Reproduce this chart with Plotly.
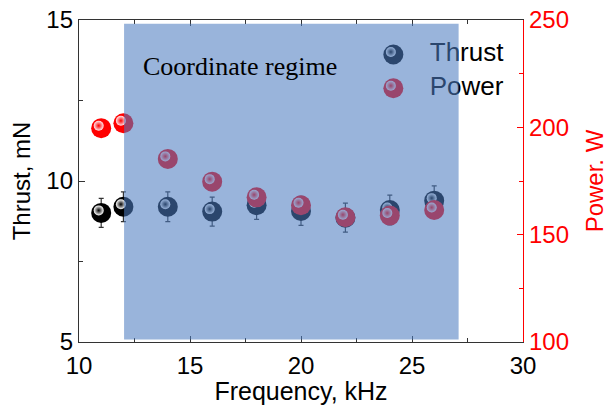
import plotly.graph_objects as go

# ---- data -------------------------------------------------------------
freq_khz = [11, 12, 14, 16, 18, 20, 22, 24, 26]
thrust_mn = [9.01, 9.20, 9.20, 9.05, 9.25, 9.07, 8.86, 9.10, 9.39]
thrust_err = [0.45, 0.46, 0.46, 0.45, 0.44, 0.45, 0.45, 0.46, 0.46]
power_w = [199.6, 201.9, 185.3, 174.7, 167.4, 163.7, 158.1, 158.9, 161.5]

regime_khz = [12.03, 27.1]       # shaded "coordinate regime" band
regime_mn = [5.08, 14.88]

x_range = [10, 30]
y_range = [5, 15]
y2_range = [100, 250]

# ---- layout geometry --------------------------------------------------
W, H = 608, 405
M = dict(l=79, r=85, t=20, b=63)
plot_w = W - M["l"] - M["r"]
plot_h = H - M["t"] - M["b"]

FONT = "Liberation Sans, Arial, sans-serif"
SERIF = "Liberation Serif, Times New Roman, serif"
RED = "#ff0000"


def px_to_dx(px, rng):
    return px * (rng[1] - rng[0]) / plot_w


def px_to_dy(px, rng):
    return px * (rng[1] - rng[0]) / plot_h


# sphere look: solid body + small offset glint
BODY = 20
GLINT = 10
GLINT_DX = -2.5
GLINT_DY = 2.5

fig = go.Figure()


def add_spheres(xs, ys, base, glint, xaxis, yaxis, xr, yr, err=None):
    fig.add_trace(go.Scatter(
        x=xs, y=ys, mode="markers", xaxis=xaxis, yaxis=yaxis,
        marker=dict(size=BODY, color=base, line=dict(width=0)),
        error_y=(dict(type="data", array=err, color="#333333", thickness=1.2, width=2.5)
                 if err is not None else None),
        showlegend=False, hoverinfo="skip",
    ))
    gx = [v + px_to_dx(GLINT_DX, xr) for v in xs]
    gy = [v + px_to_dy(GLINT_DY, yr) for v in ys]
    fig.add_trace(go.Scatter(
        x=gx, y=gy, mode="markers", xaxis=xaxis, yaxis=yaxis,
        marker=dict(size=GLINT, color=glint, line=dict(width=0),
                    gradient=dict(type="radial", color=base)),
        showlegend=False, hoverinfo="skip",
    ))


# thrust (left axis)
add_spheres(freq_khz, thrust_mn, "#000000", "#ffffff", "x", "y", x_range, y_range, thrust_err)
# power (right axis)
add_spheres(freq_khz, power_w, RED, "#ffe8ec", "x", "y2", x_range, y2_range)

# key drawn in axes-fraction space so the band tints it like the data
key_x = 0.708
key_text_x = 0.79
key_rows = [0.893, 0.788]
key_names = ["Thrust", "Power"]
key_colors = [("#000000", "#ffffff"), (RED, "#ffe8ec")]
for ky, name, (base, glint) in zip(key_rows, key_names, key_colors):
    add_spheres([key_x], [ky], base, glint, "x3", "y3", [0, 1], [0, 1])
    fig.add_trace(go.Scatter(
        x=[key_text_x], y=[ky], mode="text", text=[name], textposition="middle right",
        textfont=dict(family=FONT, size=26, color="#000000"),
        xaxis="x3", yaxis="y3", showlegend=False, hoverinfo="skip",
    ))

# shaded band laid over the markers
fig.add_shape(type="rect", xref="x", yref="y",
              x0=regime_khz[0], x1=regime_khz[1], y0=regime_mn[0], y1=regime_mn[1],
              fillcolor="rgb(75,123,192)", opacity=0.57, line=dict(width=0), layer="above")

fig.add_annotation(x=12.8, y=13.56, xref="x", yref="y", text="Coordinate regime",
                   showarrow=False, xanchor="left", yanchor="middle",
                   font=dict(family=SERIF, size=26, color="#000000"))

axis_common = dict(
    ticks="inside", ticklen=6, tickwidth=1.2, showgrid=False, zeroline=False,
    showline=True, linewidth=1.3, automargin=False,
)

fig.update_layout(
    width=W, height=H, margin=M,
    paper_bgcolor="white", plot_bgcolor="white",
    showlegend=False,
    font=dict(family=FONT, size=24, color="#000000"),
    xaxis=dict(
        range=x_range, dtick=5, tick0=10, linecolor="#333333", tickcolor="#333333",
        mirror="ticks", ticklabelstandoff=2,
        minor=dict(dtick=2.5, ticks="inside", ticklen=4, tickcolor="#333333"),
        tickfont=dict(size=24),
        title=dict(text="Frequency, kHz", font=dict(size=25), standoff=8),
        **axis_common,
    ),
    yaxis=dict(
        range=y_range, dtick=5, tick0=5, linecolor="#333333", tickcolor="#333333",
        minor=dict(dtick=2.5, ticks="inside", ticklen=4, tickcolor="#333333"),
        tickfont=dict(size=24),
        title=dict(text="Thrust, mN", font=dict(size=24), standoff=8),
        **axis_common,
    ),
    yaxis2=dict(
        range=y2_range, dtick=50, tick0=100, overlaying="y", side="right",
        linecolor=RED, tickcolor=RED,
        minor=dict(dtick=25, ticks="inside", ticklen=4, tickcolor=RED),
        tickfont=dict(size=24, color=RED),
        title=dict(text="Power. W", font=dict(size=24, color=RED), standoff=22),
        **axis_common,
    ),
    xaxis3=dict(range=[0, 1], overlaying="x", visible=False),
    yaxis3=dict(range=[0, 1], overlaying="y", visible=False),
)

fig.write_html("out.html")
